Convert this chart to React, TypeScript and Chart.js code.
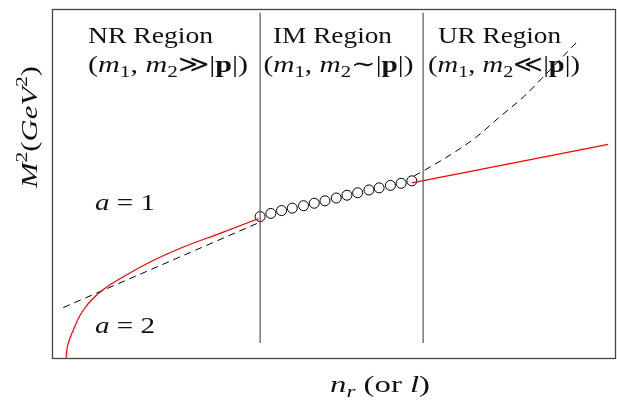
import React, { useEffect, useRef } from "react";
import { Chart, registerables } from "chart.js";

Chart.register(...registerables);

// ---- data (abstract units, 0..100 on both axes) ----
const regionNames = ["NR Region", "IM Region", "UR Region"];
const regionRelations = ["≫", "∼", "≪"];
const aLabels = ["a = 1", "a = 2"];

const boundaryX = [36.9, 65.8];
const boundaryY = [4.6, 98.9];

const imX = [36.9, 38.8, 40.7, 42.6, 44.6, 46.5, 48.4, 50.4, 52.3, 54.2, 56.2, 58.0, 60.0, 61.9, 63.8];
const imY = [40.7, 41.6, 42.4, 43.1, 43.8, 44.5, 45.2, 46.0, 46.8, 47.5, 48.3, 48.9, 49.6, 50.2, 50.9];

const nrRedX = [2.48, 2.62, 3.01, 3.78, 4.66, 5.55, 7.09, 9.22, 12.64, 17.38, 23.28, 29.79, 36.61];
const nrRedY = [0, 2.57, 5.14, 8.29, 11.57, 14.0, 17.0, 20.0, 23.51, 27.71, 32.0, 35.91, 40.1];

const urRedX = [63.8, 98.6];
const urRedY = [50.3, 61.3];

const dashNrX = [2.0, 36.6];
const dashNrY = [14.7, 38.9];

const dashUrX = [64.2, 66.1, 70.6, 75.3, 79.4, 83.6, 87.7, 92.9];
const dashUrY = [52.3, 54.0, 58.3, 63.5, 69.2, 74.9, 81.6, 90.3];

const zip = (xs: number[], ys: number[]) => xs.map((x, i) => ({ x, y: ys[i] }));

type Run = [string, string?, number?, number?];

function drawRuns(
  ctx: CanvasRenderingContext2D,
  items: Run[],
  x: number,
  y: number,
  size: number,
  targetW: number
) {
  const fonts = items.map(([, st = "", f = 1]) =>
    `${st === "i" ? "italic " : ""}${st === "b" ? "bold " : ""}${Math.round(size * (f || 1))}px "Liberation Serif", "DejaVu Serif", serif`
  );
  const widths = items.map((it, i) => {
    ctx.font = fonts[i];
    return ctx.measureText(it[0]).width;
  });
  const total = widths.reduce((a, b) => a + b, 0);
  const sx = targetW / total;
  ctx.save();
  ctx.translate(x, y);
  ctx.scale(sx, 1);
  ctx.fillStyle = "#111";
  ctx.textAlign = "left";
  ctx.textBaseline = "alphabetic";
  let cx = 0;
  items.forEach((it, i) => {
    ctx.font = fonts[i];
    ctx.fillText(it[0], cx, it[3] || 0);
    cx += widths[i];
  });
  ctx.restore();
}

const mathLine = (rel: string): Run[] => [
  ["("],
  ["m", "i"],
  ["1", "", 0.7, 5],
  [", "],
  ["m", "i"],
  ["2", "", 0.7, 5],
  [rel],
  ["|"],
  ["p", "b"],
  ["|"],
  [")"],
];

const overlay = {
  id: "overlay",
  afterDraw(chart: any) {
    const ctx: CanvasRenderingContext2D = chart.ctx;
    const a = chart.chartArea;
    ctx.save();
    ctx.strokeStyle = "#444";
    ctx.lineWidth = 1.3;
    ctx.strokeRect(a.left + 0.5, a.top + 0.5, a.right - a.left - 1, a.bottom - a.top - 1);
    ctx.restore();

    drawRuns(ctx, [[regionNames[0]]], 88, 43, 24, 125);
    drawRuns(ctx, [[regionNames[1]]], 273, 43, 24, 119);
    drawRuns(ctx, [[regionNames[2]]], 438, 43, 24, 123);
    drawRuns(ctx, mathLine(regionRelations[0]), 88, 72, 24, 160);
    drawRuns(ctx, mathLine(regionRelations[1]), 263.5, 72, 24, 150);
    drawRuns(ctx, mathLine(regionRelations[2]), 428, 72, 24, 152);

    const [a1, a2] = aLabels.map((s) => s.split(" = "));
    drawRuns(ctx, [[a1[0], "i"], [" = "], [a1[1]]], 95, 210, 24, 60);
    drawRuns(ctx, [[a2[0], "i"], [" = "], [a2[1]]], 95, 333, 24, 60);

    drawRuns(ctx, [["n", "i"], ["r", "i", 0.7, 5], [" (or "], ["l", "i"], [")"]], 330, 392, 24, 100);

    ctx.save();
    ctx.translate(37, 188);
    ctx.rotate(-Math.PI / 2);
    drawRuns(ctx, [["M", "i"], ["2", "", 0.7, -10], ["("], ["GeV", "i"], ["2", "", 0.7, -10], [")"]], 0, 0, 24, 122);
    ctx.restore();
  },
};

export default function App() {
  const ref = useRef<HTMLCanvasElement | null>(null);

  useEffect(() => {
    if (!ref.current) return;
    const lineDs = (data: any[], color: string, width: number, dash: number[] = []) => ({
      data,
      showLine: true,
      borderColor: color,
      borderWidth: width,
      borderDash: dash,
      pointRadius: 0,
      pointHoverRadius: 0,
      fill: false,
      tension: 0,
    });
    const chart = new Chart(ref.current, {
      type: "scatter",
      data: {
        datasets: [
          lineDs(zip([boundaryX[0], boundaryX[0]], boundaryY), "#555", 1.2),
          lineDs(zip([boundaryX[1], boundaryX[1]], boundaryY), "#555", 1.2),
          { ...lineDs(zip(nrRedX, nrRedY), "#ff0000", 1.2), cubicInterpolationMode: "monotone" },
          lineDs(zip(urRedX, urRedY), "#ff0000", 1.2),
          lineDs(zip(dashNrX, dashNrY), "#000", 1, [7, 5]),
          { ...lineDs(zip(dashUrX, dashUrY), "#000", 1, [7, 5]), cubicInterpolationMode: "monotone" },
          {
            data: zip(imX, imY),
            showLine: false,
            pointRadius: 5,
            pointHoverRadius: 5,
            pointBorderWidth: 1,
            pointBorderColor: "#000",
            pointBackgroundColor: "rgba(0,0,0,0)",
          },
        ] as any,
      },
      options: {
        animation: false,
        responsive: false,
        events: [],
        layout: { autoPadding: false, padding: { left: 52, right: 1, top: 9, bottom: 41 } },
        plugins: { legend: { display: false }, tooltip: { enabled: false }, title: { display: false } },
        scales: {
          x: { type: "linear", min: 0, max: 100, display: false },
          y: { type: "linear", min: 0, max: 100, display: false },
        },
      },
      plugins: [overlay],
    });
    return () => chart.destroy();
  }, []);

  return (
    <div style={{ position: "absolute", left: 0, top: 0, width: 617, height: 400, background: "#fff" }}>
      <canvas ref={ref} width={617} height={400} style={{ display: "block" }} />
    </div>
  );
}
